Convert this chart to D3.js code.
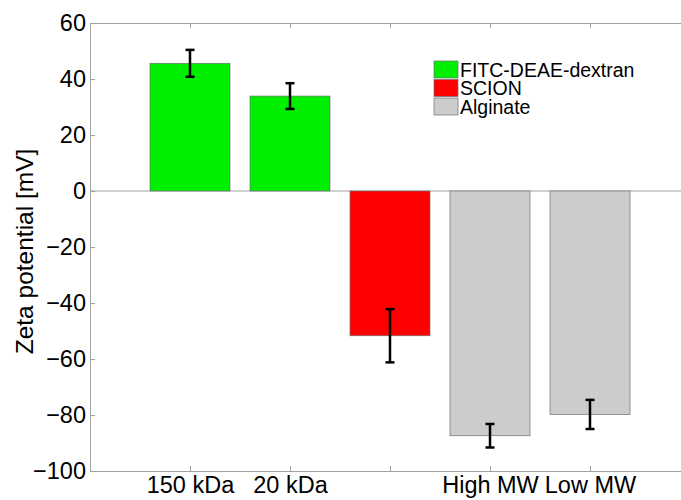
<!DOCTYPE html>
<html>
<head>
<meta charset="utf-8">
<script src="https://cdn.jsdelivr.net/npm/d3@7"></script>
<style>
  body { margin: 0; background: #fff; }
  svg { display: block; font-family: "Liberation Sans", Arial, sans-serif; }
</style>
</head>
<body>
<svg id="chart" width="681" height="500"></svg>
<script>
// data
const categories = ["150 kDa", "20 kDa", "", "High MW", "Low MW"];
const values = [45.6, 33.9, -51.7, -87.4, -79.8];
const errors = [4.8, 4.6, 9.5, 4.2, 5.2];
const groups = ["FITC-DEAE-dextran", "FITC-DEAE-dextran", "SCION", "Alginate", "Alginate"];

const legendNames = ["FITC-DEAE-dextran", "SCION", "Alginate"];
const legendColors = ["#00ee00", "#ff0000", "#cccccc"];
const yTicks = [-100, -80, -60, -40, -20, 0, 20, 40, 60];

let svg = d3.select("#chart");

// plot area (right edge is cut off by the picture)
let plotLeft = 90, plotRight = 690, plotTop = 23, plotBottom = 471;

let x = d3.scaleLinear().domain([0, categories.length + 1]).range([plotLeft, plotRight]);
let y = d3.scaleLinear().domain([-100, 60]).range([plotBottom, plotTop]);
let color = d3.scaleOrdinal().domain(legendNames).range(legendColors);

let axisColor = "#a0a0a0";
let barW = 0.8;

// zero baseline
svg.append("line")
    .attr("x1", plotLeft).attr("x2", plotRight)
    .attr("y1", y(0)).attr("y2", y(0))
    .attr("stroke", axisColor).attr("stroke-width", 1);

// bars
svg.append("g")
    .selectAll("rect")
    .data(values)
    .join("rect")
    .attr("x", (d, i) => x(i + 1 - barW / 2))
    .attr("width", x(barW) - x(0))
    .attr("y", d => y(Math.max(d, 0)))
    .attr("height", d => Math.abs(y(d) - y(0)))
    .attr("fill", (d, i) => color(groups[i]))
    .attr("stroke", "#707070")
    .attr("stroke-width", 0.7);

// error bars
let capW = 4.5;
let eb = svg.append("g")
    .attr("stroke", "#000")
    .attr("stroke-width", 2.5)
    .selectAll("g")
    .data(values)
    .join("g");

eb.append("line")
    .attr("x1", (d, i) => x(i + 1)).attr("x2", (d, i) => x(i + 1))
    .attr("y1", (d, i) => y(d + errors[i]))
    .attr("y2", (d, i) => y(d - errors[i]));
eb.append("line")
    .attr("x1", (d, i) => x(i + 1) - capW).attr("x2", (d, i) => x(i + 1) + capW)
    .attr("y1", (d, i) => y(d + errors[i])).attr("y2", (d, i) => y(d + errors[i]));
eb.append("line")
    .attr("x1", (d, i) => x(i + 1) - capW).attr("x2", (d, i) => x(i + 1) + capW)
    .attr("y1", (d, i) => y(d - errors[i])).attr("y2", (d, i) => y(d - errors[i]));

// axes, ticks pointing inward
let xAxis = d3.axisBottom(x)
    .tickValues(d3.range(1, categories.length + 1))
    .tickFormat(i => categories[i - 1])
    .tickSize(-5)
    .tickPadding(5);

let gx = svg.append("g")
    .attr("transform", `translate(0,${plotBottom})`)
    .call(xAxis);

let gxTop = svg.append("g")
    .attr("transform", `translate(0,${plotTop})`)
    .call(d3.axisTop(x).tickValues(d3.range(1, categories.length + 1)).tickFormat("").tickSize(-5));

let gy = svg.append("g")
    .attr("transform", `translate(${plotLeft},0)`)
    .call(d3.axisLeft(y).tickValues(yTicks).tickSize(-5).tickPadding(4));

[gx, gxTop, gy].forEach(g => {
    g.select(".domain").attr("stroke", axisColor);
    g.selectAll(".tick line").attr("stroke", axisColor);
    g.selectAll("text")
        .attr("fill", "#000")
        .style("font-size", "23.5px")
        .style("font-family", "'Liberation Sans', Arial, sans-serif");
});

// y label
svg.append("text")
    .attr("transform", "translate(33,251.5) rotate(-90)")
    .attr("text-anchor", "middle")
    .style("font-size", "24.5px")
    .text("Zeta potential [mV]");

// legend
let legend = svg.append("g")
    .attr("transform", "translate(434,61)")
    .selectAll("g")
    .data(legendNames)
    .join("g")
    .attr("transform", (d, i) => `translate(0,${i * 18.5})`);

legend.append("rect")
    .attr("width", 24).attr("height", 17)
    .attr("fill", d => color(d))
    .attr("stroke", "#707070")
    .attr("stroke-width", 0.7);

legend.append("text")
    .attr("x", 26)
    .attr("y", 15.5)
    .style("font-size", "19.5px")
    .text(d => d);
</script>
</body>
</html>
